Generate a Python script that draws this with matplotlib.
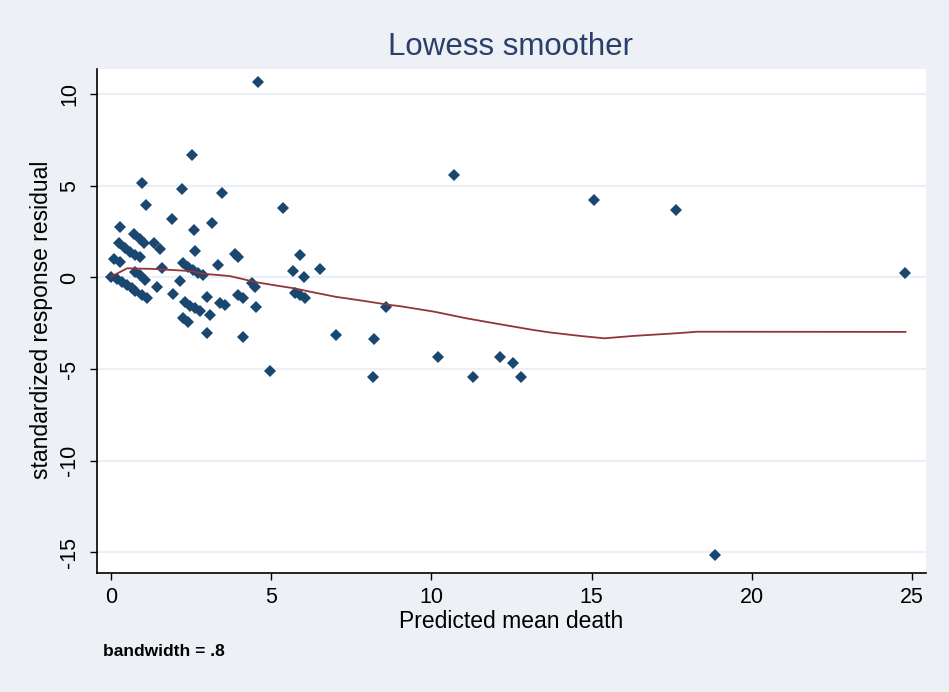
import matplotlib
matplotlib.use("Agg")
import matplotlib.pyplot as plt

plt.rcParams['font.family'] = ['Liberation Sans', 'DejaVu Sans']

# Scatter data: predicted mean death vs standardized response residual
pred_mean = [0.00, 0.09, 0.28, 0.25, 0.44, 0.59, 0.75, 0.90, 0.73, 0.90,
             1.04, 0.98, 1.08, 1.35, 1.53, 1.91, 2.23, 2.52, 2.58, 2.62,
             3.14, 3.46, 3.87, 3.97, 0.28, 0.18, 0.33, 0.49, 0.65, 0.75,
             0.75, 0.90, 1.06, 0.96, 1.11, 1.43, 1.58, 1.95, 2.15, 2.26,
             2.41, 2.57, 2.72, 2.88, 3.35, 2.31, 2.47, 2.62, 2.77, 2.26,
             2.41, 2.99, 3.09, 2.99, 3.40, 3.56, 3.97, 4.11, 4.11, 4.39,
             4.49, 4.53, 4.59, 4.96, 5.37, 5.69, 5.90, 6.02, 6.52, 5.74,
             5.90, 6.05, 7.02, 8.21, 8.57, 8.17, 10.22, 10.71, 11.29, 12.14,
             12.54, 12.79, 15.07, 17.63, 18.85, 24.78]
std_resid = [0.05, 1.03, 2.76, 1.87, 1.63, 1.41, 1.23, 1.10, 2.37, 2.08,
             1.87, 5.17, 3.96, 1.87, 1.54, 3.18, 4.83, 6.69, 2.58, 1.46,
             2.99, 4.63, 1.28, 1.14, 0.86, -0.10, -0.26, -0.41, -0.59, -0.72,
             0.32, 0.14, -0.14, -0.96, -1.14, -0.50, 0.50, -0.90, -0.20, 0.78,
             0.59, 0.41, 0.26, 0.14, 0.68, -1.35, -1.53, -1.68, -1.82, -2.23,
             -2.41, -1.05, -2.05, -3.05, -1.37, -1.50, -0.96, -1.14, -3.27, -0.32,
             -0.50, -1.59, 10.67, -5.10, 3.79, 0.35, 1.23, 0.04, 0.46, -0.86,
             -0.96, -1.14, -3.14, -3.36, -1.59, -5.41, -4.36, 5.60, -5.45, -4.36,
             -4.69, -5.45, 4.23, 3.68, -15.15, 0.23]

# Lowess smooth (bandwidth .8)
lowess_x = [0.0, 0.5, 1.3, 2.5, 2.9, 3.7, 4.1, 4.5, 5.2, 5.75, 6.2, 7.0, 7.9,
            8.7, 9.0, 10.1, 11.1, 12.1, 13.2, 13.7, 14.7, 15.4, 16.3, 17.6,
            18.3, 24.8]
lowess_y = [0.04, 0.5, 0.47, 0.35, 0.2, 0.08, -0.08, -0.25, -0.45, -0.6,
            -0.77, -1.05, -1.28, -1.5, -1.56, -1.87, -2.23, -2.54, -2.87,
            -3.0, -3.2, -3.32, -3.19, -3.05, -2.96, -2.97]

x_ticks = [0, 5, 10, 15, 20, 25]
y_ticks = [-15, -10, -5, 0, 5, 10]

title = "Lowess smoother"
x_label = "Predicted mean death"
y_label = "standardized response residual"
note = "bandwidth = .8"

bg = "#EDF0F5"
navy = "#1A476F"
maroon = "#90353B"

W, H = 949, 692
fig = plt.figure(figsize=(W/100, H/100), dpi=100, facecolor=bg)
ax = fig.add_axes([97/W, 1-573/H, (926-97)/W, (573-69)/H])
ax.set_facecolor("white")

ax.set_xlim(-0.437, 25.44)
ax.set_ylim(-16.13, 11.38)

for yt in y_ticks:
    ax.axhline(yt, color="#EAF0F6", lw=1.6, zorder=0)

ax.plot(pred_mean, std_resid, linestyle="none", marker="D", markersize=5.9,
        color=navy, markeredgewidth=0, zorder=3)
ax.plot(lowess_x, lowess_y, color=maroon, lw=1.3, zorder=4)

for s in ["top", "right"]:
    ax.spines[s].set_visible(False)
for s in ["left", "bottom"]:
    ax.spines[s].set_color("black")
    ax.spines[s].set_linewidth(1.2)

ax.set_xticks(x_ticks)
ax.set_yticks(y_ticks)
ax.set_xticklabels([str(t) for t in x_ticks])
ax.set_yticklabels([str(t) for t in y_ticks], rotation=90, va="center")
ax.tick_params(axis="both", direction="out", length=5, width=1, color="black",
               labelsize=15.5, labelcolor="black")
ax.tick_params(axis="x", pad=5)
ax.tick_params(axis="y", pad=7)

fig.text(510/W, 1-47/H, title, fontsize=22.5, color="#2A3F6A", ha="center", va="center")
fig.text(511/W, 1-622/H, x_label, fontsize=16.5, ha="center", va="center")
fig.text(42/W, 1-320/H, y_label, fontsize=16.5, ha="center", va="center", rotation=90)

fig.text(103/W, 1-651/H, note, fontsize=12.5, fontweight="bold",
         va="center", ha="left")

fig.savefig("out.png", dpi=100, facecolor=bg)
